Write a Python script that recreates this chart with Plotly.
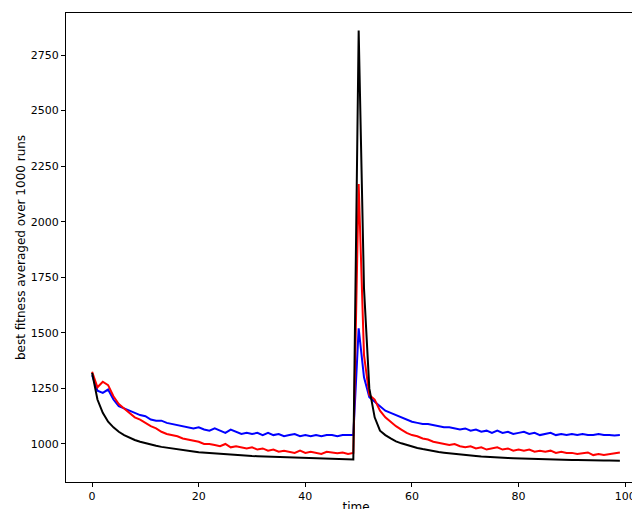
import plotly.graph_objects as go

black = [1320, 1200, 1140, 1100, 1075, 1055, 1040, 1028, 1018, 1010, 1003, 997, 992, 987, 983, 979, 975, 972, 969, 966,
         963, 961, 959, 957, 955, 953, 951, 950, 948, 947, 946, 945, 944, 943, 942, 941, 940, 939, 938, 937,
         936, 935, 934, 934, 933, 932, 932, 931, 930, 930,
         2860, 1700, 1250, 1120, 1060, 1040, 1025, 1012, 1003, 995, 988, 982, 977, 972, 968, 964, 961, 958, 955, 952,
         950, 948, 946, 944, 942, 941, 939, 938, 937, 936, 935, 934, 933, 932, 932, 931, 930, 930, 929, 929,
         928, 928, 927, 927, 927, 926, 926, 926, 925, 925]
red = [1325, 1255, 1280, 1265, 1215, 1180, 1160, 1140, 1120, 1110, 1095, 1080, 1070, 1055, 1045, 1040, 1035, 1025, 1020, 1015,
       1010, 1000, 1000, 995, 990, 1000, 985, 990, 985, 980, 985, 975, 980, 970, 975, 965, 970, 965, 960, 970,
       960, 965, 960, 955, 965, 960, 958, 962, 955, 960,
       2170, 1400, 1220, 1200, 1150, 1120, 1100, 1080, 1065, 1050, 1040, 1035, 1025, 1020, 1010, 1005, 1000, 995, 1000, 990,
       985, 990, 980, 985, 975, 980, 985, 975, 980, 970, 975, 970, 975, 965, 970, 965, 970, 960, 965, 960,
       960, 955, 960, 962, 950, 955, 950, 955, 958, 962]
blue = [1310, 1240, 1230, 1245, 1200, 1170, 1160, 1150, 1140, 1130, 1125, 1110, 1105, 1105, 1095, 1090, 1085, 1080, 1075, 1070,
        1075, 1065, 1060, 1070, 1060, 1050, 1065, 1055, 1045, 1050, 1045, 1050, 1040, 1050, 1040, 1045, 1035, 1040, 1045, 1035,
        1040, 1035, 1040, 1035, 1040, 1040, 1035, 1040, 1040, 1040,
        1520, 1300, 1210, 1190, 1170, 1150, 1140, 1130, 1120, 1110, 1100, 1095, 1090, 1090, 1085, 1080, 1075, 1075, 1070, 1065,
        1070, 1060, 1065, 1055, 1060, 1050, 1060, 1050, 1055, 1045, 1050, 1055, 1045, 1050, 1040, 1045, 1050, 1040, 1045, 1040,
        1045, 1040, 1045, 1040, 1040, 1045, 1040, 1040, 1038, 1040]

fig = go.Figure()
for ys, colour in [(blue, "blue"), (red, "red"), (black, "black")]:
    fig.add_trace(go.Scatter(x=list(range(len(ys))), y=ys, mode="lines",
                             line=dict(color=colour, width=2), showlegend=False))

title_font = dict(family="DejaVu Sans", size=12, color="black")
axis_style = dict(showgrid=False, zeroline=False, showline=True, linecolor="black", mirror=True,
                  ticks="outside", tickcolor="black", ticklen=4, automargin=False,
                  tickfont=dict(family="DejaVu Sans", size=11, color="black"))
fig.update_xaxes(range=[-4.9, 103.9], tickvals=[0, 20, 40, 60, 80, 100],
                 title=dict(text="time", standoff=0, font=title_font), **axis_style)
fig.update_yaxes(range=[829, 2939], tickvals=[1000, 1250, 1500, 1750, 2000, 2250, 2500, 2750],
                 title=dict(text="best fitness averaged over 1000 runs", standoff=2, font=title_font), **axis_style)
fig.update_layout(width=640, height=509, plot_bgcolor="white", paper_bgcolor="white",
                  margin=dict(l=58, r=2, t=5, b=35))
fig.write_html("out.html")
